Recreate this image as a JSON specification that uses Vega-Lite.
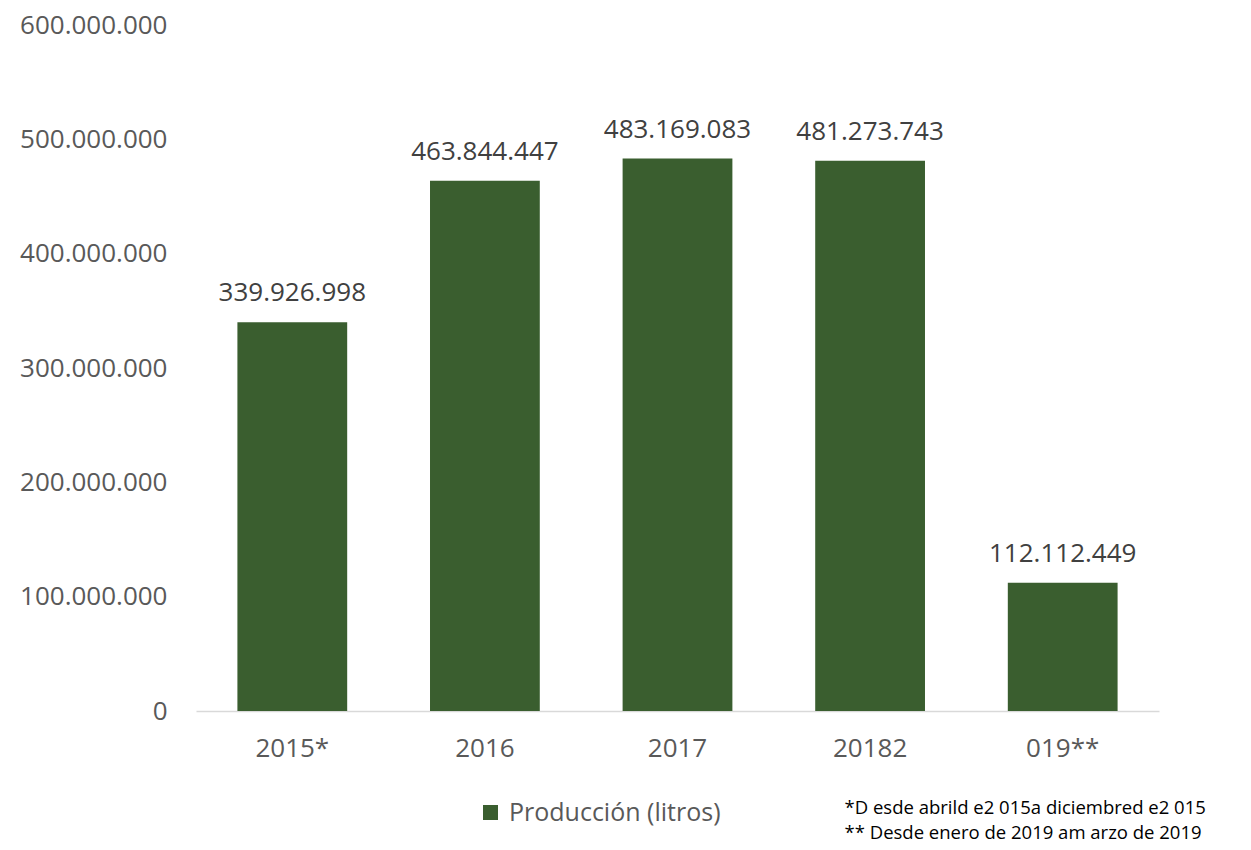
{
  "$schema": "https://vega.github.io/schema/vega-lite/v6.json",
  "width": 963,
  "height": 686,
  "autosize": {"type": "none"},
  "padding": {"left": 196, "top": 25, "right": 92, "bottom": 139},
  "background": "white",
  "config": {
    "locale": {"number": {"decimal": ",", "thousands": ".", "grouping": [3], "currency": ["", " €"]}},
    "font": "Open Sans",
    "view": {"stroke": null}
  },
  "title": {
    "text": ["*D  esde abrild e2 015a  diciembred e2 015", "** Desde enero de 2019 am arzo de 2019"],
    "orient": "bottom",
    "anchor": "start",
    "align": "left",
    "dx": 825,
    "offset": -27,
    "font": "Open Sans",
    "fontSize": 18.5,
    "fontWeight": "normal",
    "lineHeight": 25,
    "color": "#000000"
  },
  "data": {
    "values": [
      {"anio": "2015*", "litros": 339926998, "serie": "Producción (litros)"},
      {"anio": "2016", "litros": 463844447, "serie": "Producción (litros)"},
      {"anio": "2017", "litros": 483169083, "serie": "Producción (litros)"},
      {"anio": "20182", "litros": 481273743, "serie": "Producción (litros)"},
      {"anio": "019**", "litros": 112112449, "serie": "Producción (litros)"}
    ]
  },
  "encoding": {
    "x": {
      "field": "anio",
      "type": "nominal",
      "sort": null,
      "scale": {"paddingInner": 0.43, "paddingOuter": 0.215},
      "axis": {
        "title": null,
        "labelAngle": 0,
        "ticks": false,
        "domainColor": "#d9d9d9",
        "domainWidth": 1.5,
        "labelFontSize": 26,
        "labelColor": "#595959",
        "labelPadding": 24
      }
    },
    "y": {
      "field": "litros",
      "type": "quantitative",
      "scale": {"domain": [0, 600000000]},
      "axis": {
        "title": null,
        "values": [0, 100000000, 200000000, 300000000, 400000000, 500000000, 600000000],
        "format": ",d",
        "grid": false,
        "domain": false,
        "ticks": false,
        "labelFontSize": 26,
        "labelColor": "#595959",
        "labelPadding": 29
      }
    }
  },
  "layer": [
    {
      "mark": {"type": "bar", "color": "#3a5e2f"},
      "encoding": {
        "color": {
          "field": "serie",
          "type": "nominal",
          "scale": {"range": ["#3a5e2f"]},
          "legend": {
            "title": null,
            "orient": "none",
            "legendX": 282,
            "legendY": 775,
            "symbolType": "square",
            "symbolSize": 225,
            "symbolStrokeWidth": 0,
            "labelFontSize": 25,
            "labelLimit": 0,
            "labelColor": "#595959",
            "labelOffset": 6
          }
        }
      }
    },
    {
      "mark": {"type": "text", "baseline": "bottom", "dy": -16, "fontSize": 26, "color": "#404040"},
      "encoding": {
        "text": {"field": "litros", "type": "quantitative", "format": ",d"}
      }
    }
  ]
}
